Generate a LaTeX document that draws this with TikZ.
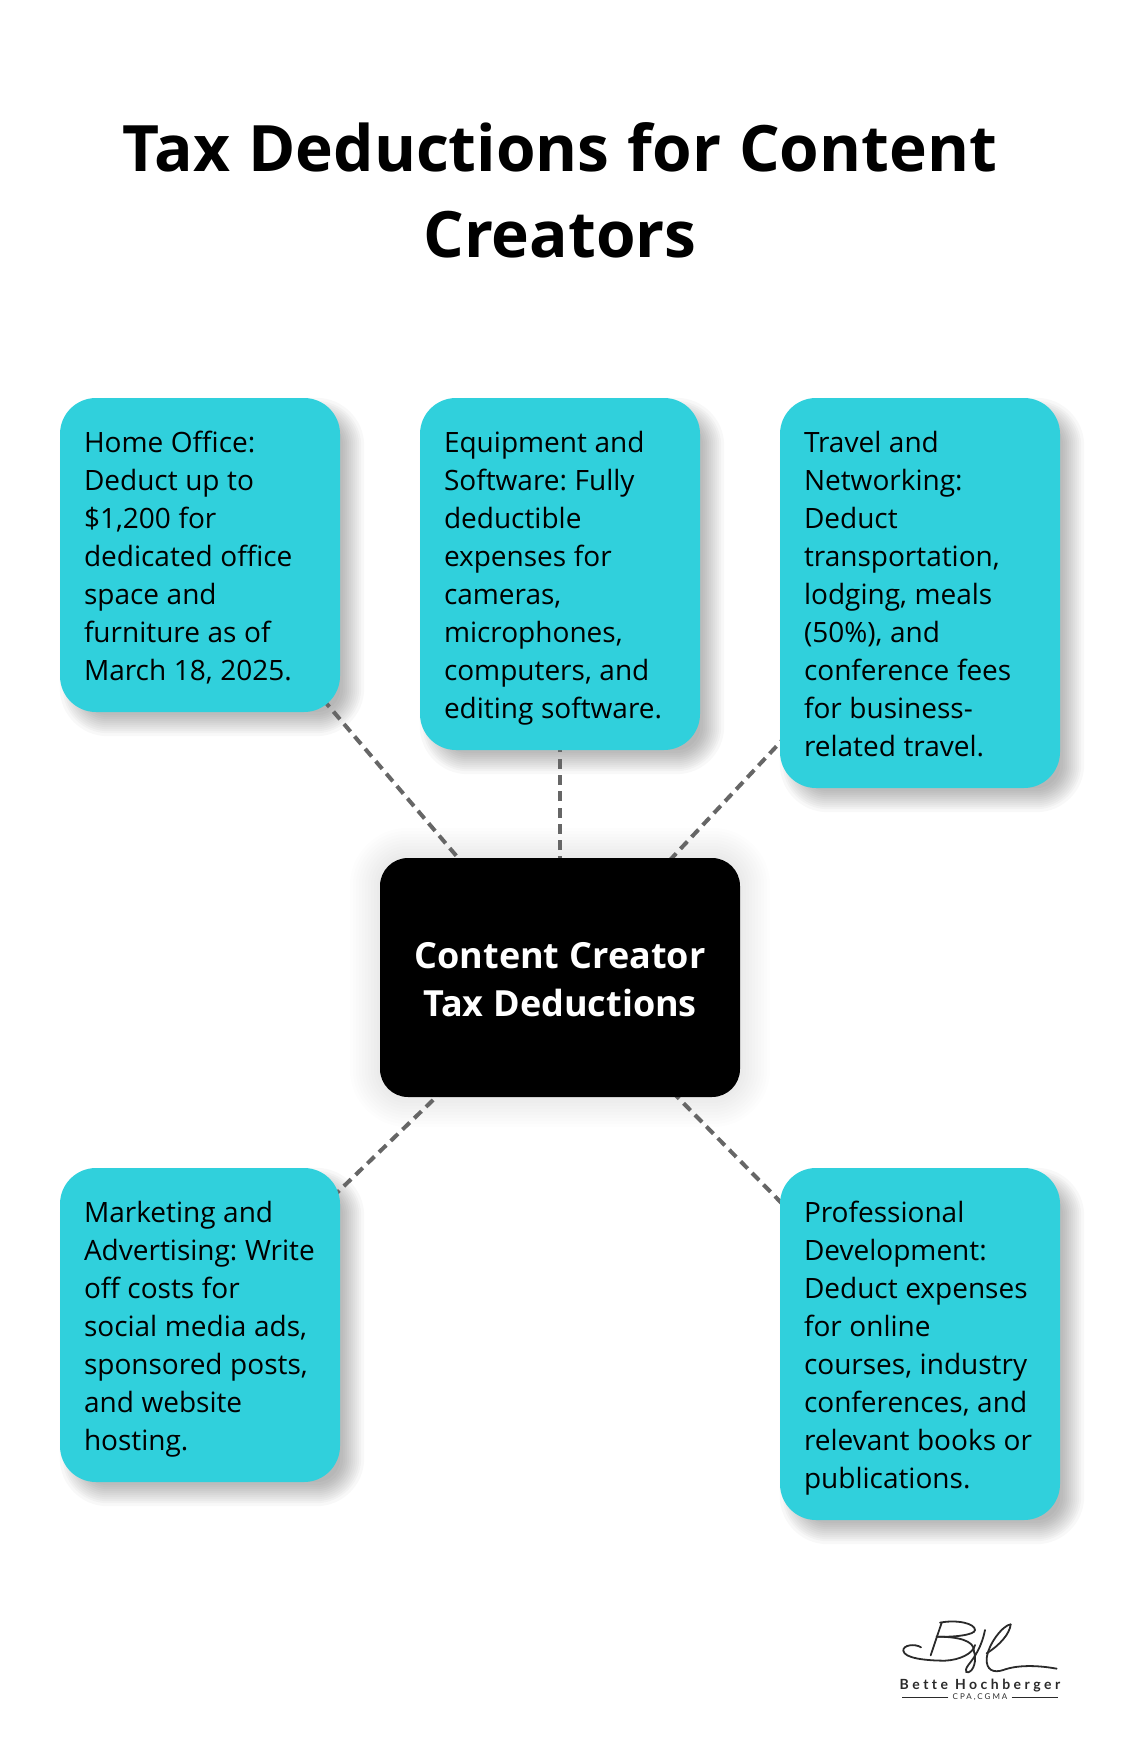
\documentclass[tikz,border=0pt]{standalone}
\usepackage{fontspec}
\setmainfont{Open Sans}
\newfontfamily\logofont[LetterSpace=25,Ligatures=NoCommon]{Lato}
\frenchspacing
\pgfdeclarelayer{ShadowLayer}
\pgfdeclarelayer{LineLayer}
\pgfsetlayers{ShadowLayer,LineLayer,main}
\definecolor{CardBlue}{HTML}{30D0DC}
\definecolor{LinkGray}{HTML}{666666}
\definecolor{LogoInk}{HTML}{2A2A2A}
\newcommand{\CardStrut}{\rule[-8pt]{0pt}{38pt}}
\newcommand{\CardSpace}{\spaceskip=7.6pt\relax}
\newcommand{\HubSpace}{\spaceskip=10pt\relax}
\newcommand{\HeadingSpace}{\spaceskip=18pt\relax}
\tikzset{
  Card/.style={fill=CardBlue, text=black, rounded corners=36pt, text width=232pt,
    inner xsep=24pt, inner ysep=24pt, align=left,
    font=\fontsize{28}{38}\selectfont, execute at begin node=\CardSpace},
  Hub/.style={fill=black, text=white, rounded corners=28pt, text width=360pt, inner sep=0pt,
    minimum height=239pt, align=center,
    font=\fontsize{36}{48}\selectfont\bfseries, execute at begin node=\HubSpace},
  Heading/.style={text=black, text width=1000pt, inner sep=0pt, align=center,
    font=\fontsize{64}{86}\selectfont\bfseries, execute at begin node=\HeadingSpace},
  Link/.style={draw=LinkGray, line width=4pt, dash pattern=on 10pt off 6.3pt, dash phase=3pt},
  Logo/.style={draw=LogoInk, line width=1.8pt, line cap=round}
}
\begin{document}
\begin{tikzpicture}[x=1pt,y=-1pt]
  \useasboundingbox (0,0) rectangle (1120,1760);

  \node [Heading] at (560,190) (Title) {Tax Deductions for Content\\Creators};

  \node [Card] at (200,555)  (HomeOffice) {\CardStrut Home Office:\\Deduct up to\\\$1,200 for\\dedicated office\\space and\\furniture as of\\March 18, 2025.\CardStrut};
  \node [Card] at (560,574)  (Equipment) {\CardStrut Equipment and\\Software: Fully\\deductible\\expenses for\\cameras,\\microphones,\\computers, and\\editing software.\CardStrut};
  \node [Card] at (920,593)  (Travel) {\CardStrut Travel and\\Networking:\\Deduct\\transportation,\\lodging, meals\\(50\%), and\\conference fees\\for business-\\related travel.\CardStrut};
  \node [Card] at (200,1325) (Marketing) {\CardStrut Marketing and\\Advertising: Write\\off costs for\\social media ads,\\sponsored posts,\\and website\\hosting.\CardStrut};
  \node [Card] at (920,1344) (Development) {\CardStrut Professional\\Development:\\Deduct expenses\\for online\\courses, industry\\conferences, and\\relevant books or\\publications.\CardStrut};

  \node [Hub] at (560,977.5) (Center) {\rule{0pt}{30pt}Content Creator\\Tax Deductions};

  \begin{pgfonlayer}{LineLayer}
    \draw [Link] (Center.center) -- (HomeOffice.center);
    \draw [Link] (Center.center) -- (Equipment.center);
    \draw [Link] (Center.center) -- (Travel.center);
    \draw [Link] (Center.center) -- (Marketing.center);
    \draw [Link] (Center.center) -- (Development.center);
  \end{pgfonlayer}

  \begin{pgfonlayer}{ShadowLayer}
    \foreach \CardName in {HomeOffice,Equipment,Travel,Marketing,Development}
      \foreach \Spread in {-12,-9,-7,-5,-3,-1,1,3,5,7,9,12}
        \fill [black, opacity=0.027, rounded corners=36pt+\Spread pt]
          ([shift={(12-\Spread,12-\Spread)}]\CardName.north west) rectangle
          ([shift={(12+\Spread,12+\Spread)}]\CardName.south east);
    \foreach \Spread in {0,3,...,30}
      \fill [black, opacity=0.009, rounded corners=28pt+\Spread pt]
        ([shift={(-\Spread,-\Spread)}]Center.north west) rectangle
        ([shift={(\Spread,\Spread)}]Center.south east);
  \end{pgfonlayer}

  \begin{scope}[shift={(860,1590)}, x=0.3333pt, y=-0.3333pt]
    \draw [Logo] (183,172) .. controls (165,160) and (128,165) .. (130,182)
      .. controls (132,205) and (200,212) .. (255,212)
      .. controls (300,210) and (340,190) .. (345,165);
    \draw [Logo] (212,196) -- (245,98);
    \draw [Logo] (240,98) .. controls (290,88) and (345,100) .. (345,120)
      .. controls (345,135) and (280,142) .. (230,140);
    \draw [Logo] (230,140) .. controls (290,140) and (345,150) .. (342,185);
    \draw [Logo] (375,120) .. controls (365,170) and (345,200) .. (325,225)
      .. controls (310,245) and (320,255) .. (335,240)
      .. controls (350,220) and (345,190) .. (342,185);
    \draw [Logo] (452,103) .. controls (430,105) and (385,160) .. (380,205)
      .. controls (378,240) and (400,250) .. (430,240)
      .. controls (470,225) and (530,225) .. (590,236);
    \draw [Logo] (452,103) .. controls (450,130) and (420,165) .. (380,190);
  \end{scope}

  \node [inner sep=0pt, text=LogoInk, font=\fontsize{14}{16}\selectfont\logofont\bfseries] at (980,1686) (LogoName) {Bette Hochberger};
  \node [inner sep=0pt, text=LogoInk, font=\fontsize{8}{9}\selectfont\logofont] at (980,1697) (LogoTitle) {CPA,CGMA};
  \draw [LogoInk, line width=0.8pt] (LogoTitle.west) ++(-4,0) -- ++(-46,0);
  \draw [LogoInk, line width=0.8pt] (LogoTitle.east) ++(4,0) -- ++(46,0);
\end{tikzpicture}
\end{document}
